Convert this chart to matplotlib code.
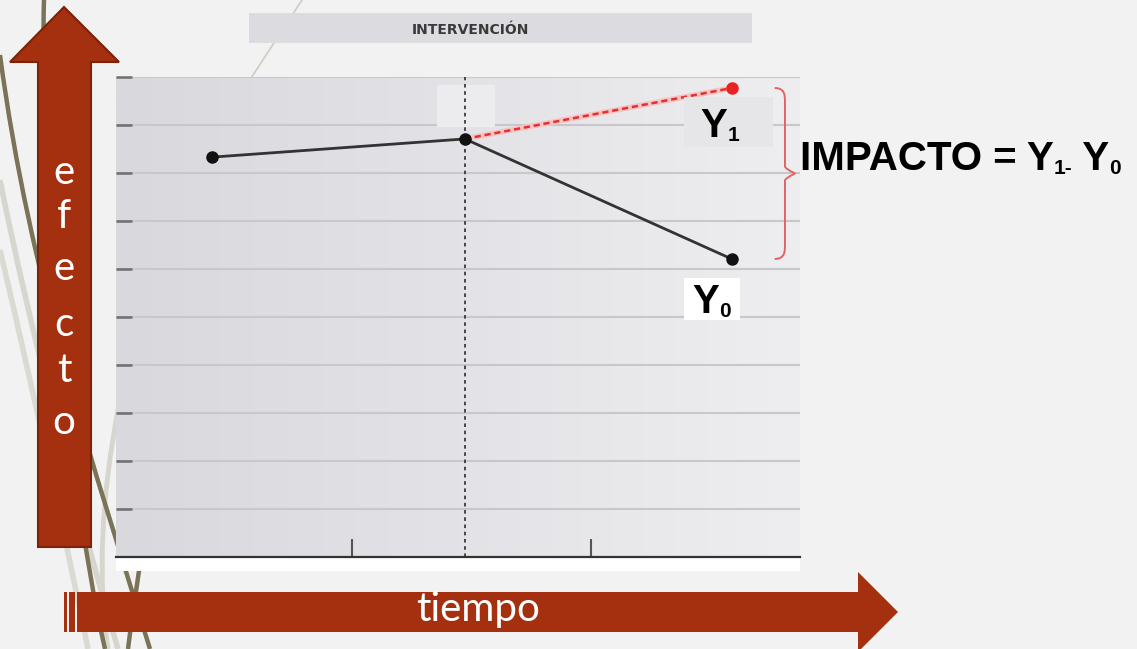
import numpy as np
import matplotlib
matplotlib.use("Agg")
import matplotlib.pyplot as plt
from matplotlib.patches import Polygon, Rectangle, PathPatch
from matplotlib.path import Path
from matplotlib.colors import LinearSegmentedColormap

# datos
tiempo_x = [1.4, 5.1, 9.0]          # antes, intervencion, despues
y0_serie = [8.33, 8.71, 6.21]       # sin intervencion (Y0)
y1_x = [5.1, 9.0]
y1_serie = [8.71, 9.77]             # con intervencion (Y1)
intervencion_x = 5.1
xticks = [3.45, 6.95]
yticks = list(range(1, 11))

W, H = 1137, 649
fig = plt.figure(figsize=(W / 100, H / 100), dpi=100, facecolor='#f2f2f2')

# fondo decorativo (coordenadas en pixeles)
bg = fig.add_axes([0, 0, 1, 1], zorder=0)
bg.set_xlim(0, W)
bg.set_ylim(H, 0)
bg.axis('off')

def curva(pts, color, lw):
    codes = [Path.MOVETO] + [Path.CURVE4] * (len(pts) - 1)
    bg.add_patch(PathPatch(Path(pts, codes), fc='none', ec=color, lw=lw, capstyle='butt'))

curva([(0, 180), (30, 330), (80, 520), (118, 649)], '#d6d6ce', 4)
curva([(0, 250), (40, 420), (70, 560), (88, 649)], '#dadad2', 4)
curva([(120, 400), (100, 500), (98, 580), (108, 649)], '#d6d6ce', 3.5)
curva([(0, 55), (30, 280), (95, 470), (150, 649)], '#7a7358', 3.2)
curva([(44, 0), (40, 120), (60, 450), (105, 649)], '#7a7358', 3.2)
curva([(150, 480), (142, 560), (134, 600), (128, 649)], '#7a7358', 3.2)
bg.plot([302, 240], [0, 95], color='#cfcfc6', lw=1.3)

fuente_flecha = dict(color='white', fontsize=29, fontfamily=['Lato', 'DejaVu Sans'],
                     fontweight='normal', ha='center', va='center', zorder=4)

# flecha vertical "efecto"
bg.add_patch(Polygon([(38, 547), (38, 62), (10, 62), (64, 7), (119, 62), (91, 62), (91, 547)],
                     closed=True, fc='#a5300f', ec='#7c2208', lw=1.5, zorder=3))
for letra, yy in zip("efecto", [173, 216, 268, 325, 370, 422]):
    bg.text(64, yy, letra, **fuente_flecha)

# flecha horizontal "tiempo"
bg.add_patch(Rectangle((64, 592), 3, 40, fc='#a5300f', ec='none', zorder=3))
bg.add_patch(Rectangle((69, 592), 6, 40, fc='#a5300f', ec='none', zorder=3))
bg.add_patch(Polygon([(77, 592), (858, 592), (858, 572), (898, 612), (858, 652), (858, 632), (77, 632)],
                     closed=True, fc='#a5300f', ec='none', zorder=3))
bg.text(478, 610, "tiempo", **fuente_flecha)

# franja blanca bajo el grafico y banda de intervencion
bg.add_patch(Rectangle((116, 550), 684, 21, fc='white', ec='none', zorder=2))
bg.add_patch(Rectangle((249, 13), 503, 30, fc='#dcdce0', ec='none', zorder=2))
bg.text(470, 30, "INTERVENCIÓN", color='#3a3a3a', fontsize=10, fontweight='bold',
        fontfamily=['Liberation Sans Narrow', 'DejaVu Sans'], ha='center', va='center', zorder=3)

# IMPACTO = Y1- Y0, armado por piezas para subindices pequenos
grande = dict(color='black', fontsize=29, fontweight='bold', fontfamily='Liberation Sans', zorder=3)
chico = dict(color='black', fontsize=15, fontweight='bold', fontfamily='Liberation Sans', zorder=3)
t1 = bg.text(800, 170, "IMPACTO = Y", ha='left', va='baseline', **grande)
t2 = bg.annotate("1-", xy=(1, 0), xycoords=t1, ha='left', va='bottom', **chico)
t3 = bg.annotate(" Y", xy=(1, 0), xycoords=t2, ha='left', va='bottom', **grande)
bg.annotate("0", xy=(1, 0), xycoords=t3, ha='left', va='bottom', **chico)

# grafico principal
ax = fig.add_axes([116 / W, (H - 557) / H, 684 / W, 480 / H], zorder=2)
ax.set_xlim(0, 10)
ax.set_ylim(0, 10)
cmap = LinearSegmentedColormap.from_list('fondo', ['#d9d9dd', '#e3e3e7', '#eeeef0'])
ax.imshow(np.linspace(0, 1, 256)[None, :], extent=[0, 10, 0, 10], cmap=cmap,
          aspect='auto', zorder=0, interpolation='bilinear')
ax.set_axisbelow(True)
ax.set_yticks(yticks)
ax.set_xticks(xticks)
ax.grid(axis='y', color='#c8c8cc', lw=1.5)
ax.tick_params(axis='y', direction='in', length=11.5, width=1.8, color='#6e6e70', labelleft=False)
ax.tick_params(axis='x', direction='in', length=13, width=1.5, color='#555555', labelbottom=False)
for s in ['top', 'left', 'right']:
    ax.spines[s].set_visible(False)
ax.spines['bottom'].set_color('#333333')
ax.spines['bottom'].set_linewidth(1.6)

ax.add_patch(Rectangle((4.69, 8.96), 0.85, 0.87, fc='#ececee', ec='none', zorder=1))
ax.axvline(intervencion_x, color='#3a3a3a', lw=1.3, ls=(0, (2, 2)), zorder=2)

# linea contrafactual Y1 (roja punteada)
ax.plot(y1_x, y1_serie, color='#f6c4c4', lw=4, zorder=3)
ax.plot(y1_x, y1_serie, color='#e53030', lw=1.8, ls=(0, (2.5, 1.5)), zorder=3.5)
ax.plot(y1_x[-1], y1_serie[-1], 'o', color='#e82222', ms=8, zorder=5)

# linea observada Y0
ax.plot(tiempo_x, y0_serie, color='#333333', lw=2, marker='o', ms=8,
        mfc='#111111', mec='#111111', zorder=4)

# etiquetas Y1 / Y0 con su recuadro
def etiqueta(x, y, sub, dx, dy, caja, color_caja):
    ax.add_patch(Rectangle((x + caja[0], y + caja[2]), caja[1] - caja[0], caja[3] - caja[2],
                           fc=color_caja, ec='none', zorder=5.5))
    ty = ax.annotate("Y", xy=(x, y), xytext=(dx, dy), textcoords='offset pixels',
                     ha='left', va='baseline', zorder=6, **{k: v for k, v in grande.items() if k != 'zorder'})
    ax.annotate(sub, xy=(1, 0), xycoords=ty, ha='left', va='bottom', zorder=6,
                **{k: v for k, v in chico.items() if k != 'zorder'})

etiqueta(y1_x[-1], y1_serie[-1], "1", -31, -49, (-0.70, 0.61, -1.23, -0.19), '#e6e6e8')
etiqueta(tiempo_x[-1], y0_serie[-1], "0", -39, -54, (-0.70, 0.12, -1.27, -0.40), 'white')

# llave del impacto
top, bot = y1_serie[-1], y0_serie[-1]
mid = (top + bot) / 2
x0, x1, x2 = 9.63, 9.78, 9.93
llave = [(x0, top), (x1, top), (x1, top - 0.15), (x1, top - 0.3),
         (x1, mid + 0.15), (x1, mid + 0.1), (x2, mid),
         (x1, mid - 0.1), (x1, mid - 0.15), (x1, bot + 0.3),
         (x1, bot + 0.15), (x1, bot), (x0, bot)]
codes = [Path.MOVETO, Path.CURVE4, Path.CURVE4, Path.CURVE4,
         Path.LINETO, Path.CURVE3, Path.CURVE3,
         Path.CURVE3, Path.CURVE3, Path.LINETO,
         Path.CURVE4, Path.CURVE4, Path.CURVE4]
ax.add_patch(PathPatch(Path(llave, codes), fc='none', ec='#e06464', lw=1.4, clip_on=False, zorder=6))

fig.savefig('out.png', dpi=100, facecolor=fig.get_facecolor())
